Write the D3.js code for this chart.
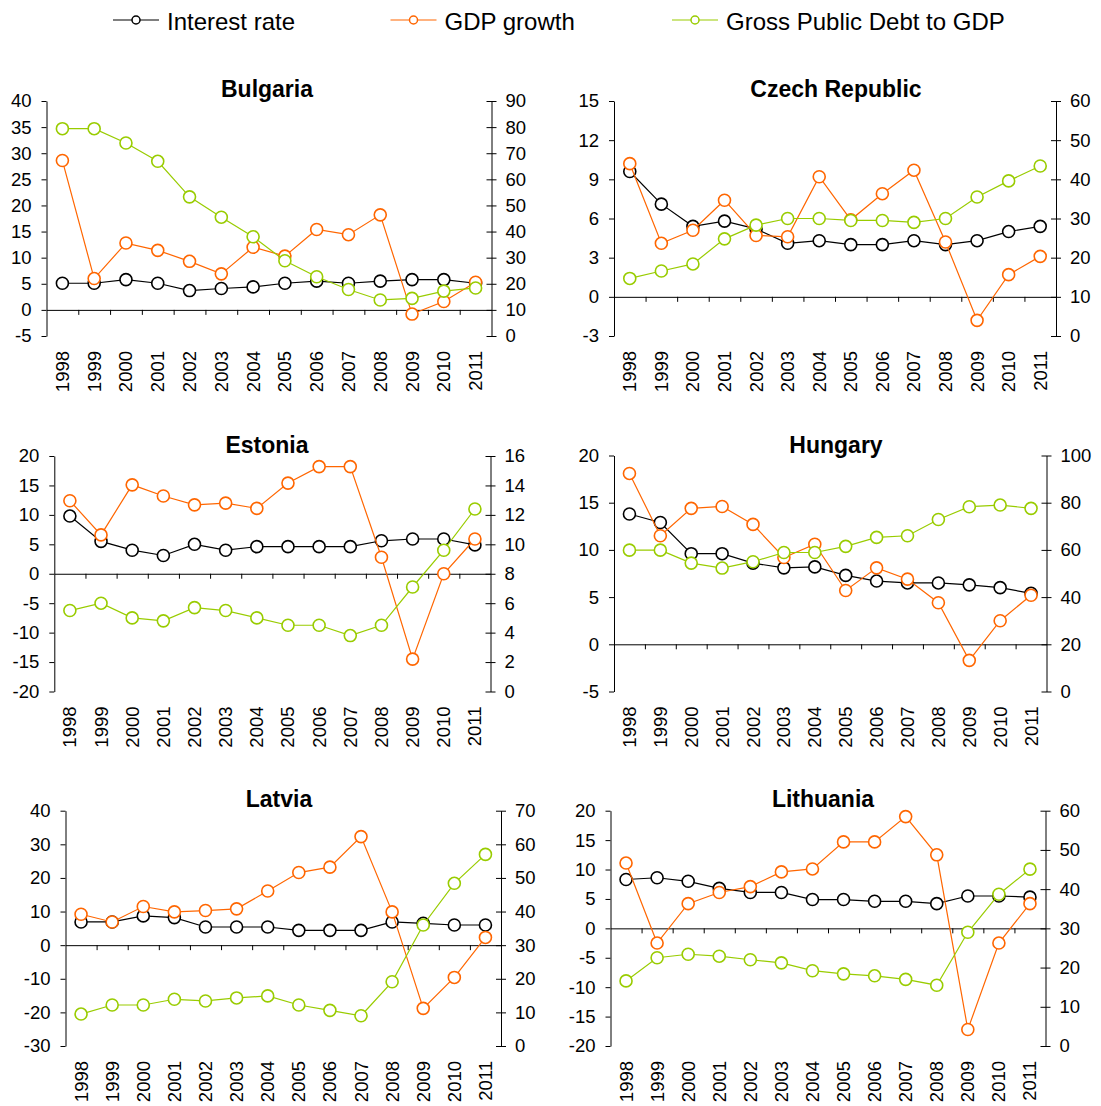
<!DOCTYPE html>
<html>
<head>
  <meta charset="utf-8">
  <script src="https://d3js.org/d3.v7.min.js"></script>
  <style>
    body { margin: 0; background: #fff; }
    svg { display: block; }
    text { font-family: "Liberation Sans", Arial, sans-serif; fill: #000; }
  </style>
</head>
<body>
<script>
  // ---- data ----
  var years = [1998, 1999, 2000, 2001, 2002, 2003, 2004, 2005, 2006, 2007, 2008, 2009, 2010, 2011];
  var seriesNames = ["Interest rate", "GDP growth", "Gross Public Debt to GDP"];

  var bgInterest = [5.1, 5.1, 5.8, 5.1, 3.7, 4.1, 4.4, 5.1, 5.5, 5.1, 5.5, 5.8, 5.8, 5.1];
  var bgGdp      = [28.6, 6.0, 12.8, 11.4, 9.3, 6.9, 12.0, 10.3, 15.4, 14.4, 18.2, -0.8, 1.6, 5.3];
  var bgDebt     = [79.4, 79.4, 73.9, 66.9, 53.3, 45.5, 38.0, 28.8, 22.7, 17.8, 13.8, 14.4, 17.2, 18.4];

  var czInterest = [9.6, 7.1, 5.4, 5.8, 5.2, 4.1, 4.3, 4.0, 4.0, 4.3, 4.0, 4.3, 5.0, 5.4];
  var czGdp      = [10.2, 4.1, 5.1, 7.4, 4.7, 4.6, 9.2, 5.9, 7.9, 9.7, 4.2, -1.8, 1.7, 3.1];
  var czDebt     = [14.7, 16.6, 18.4, 24.8, 28.3, 30.0, 30.0, 29.5, 29.5, 29.0, 30.0, 35.5, 39.6, 43.4];

  var eeInterest = [9.8, 5.5, 4.0, 3.1, 5.0, 4.0, 4.6, 4.6, 4.6, 4.6, 5.6, 5.9, 5.9, 4.9];
  var eeGdp      = [12.4, 6.6, 15.1, 13.2, 11.7, 12.0, 11.1, 15.4, 18.2, 18.2, 2.8, -14.5, 0.0, 5.9];
  var eeDebt     = [5.5, 6.0, 5.0, 4.8, 5.7, 5.5, 5.0, 4.5, 4.5, 3.8, 4.5, 7.1, 9.6, 12.4];

  var huInterest = [13.8, 12.9, 9.6, 9.6, 8.6, 8.1, 8.2, 7.3, 6.7, 6.5, 6.5, 6.3, 6.0, 5.4];
  var huGdp      = [18.1, 11.5, 14.4, 14.6, 12.7, 9.2, 10.6, 5.7, 8.1, 6.9, 4.4, -1.7, 2.5, 5.2];
  var huDebt     = [59.9, 59.9, 54.4, 52.3, 55.0, 58.9, 58.9, 61.5, 65.3, 66.0, 72.9, 78.3, 79.0, 77.6];

  var lvInterest = [6.9, 6.9, 8.7, 8.2, 5.4, 5.4, 5.4, 4.4, 4.4, 4.4, 6.9, 6.5, 6.0, 6.0];
  var lvGdp      = [9.2, 6.9, 11.5, 9.9, 10.3, 10.8, 16.1, 21.6, 23.2, 32.3, 9.9, -18.8, -9.6, 2.3];
  var lvDebt     = [9.5, 12.2, 12.2, 13.9, 13.4, 14.3, 14.9, 12.2, 10.6, 9.0, 19.1, 36.0, 48.4, 57.0];

  var ltInterest = [8.3, 8.6, 8.0, 6.8, 6.1, 6.1, 4.9, 4.9, 4.6, 4.6, 4.2, 5.5, 5.5, 5.3];
  var ltGdp      = [11.1, -2.5, 4.2, 6.1, 7.1, 9.6, 10.1, 14.7, 14.7, 19.0, 12.5, -17.2, -2.5, 4.2];
  var ltDebt     = [16.6, 22.5, 23.4, 22.9, 22.0, 21.2, 19.2, 18.4, 17.9, 17.0, 15.5, 29.0, 38.7, 45.1];

  // tick labels of the two value axes
  var bgLeftTicks = [-5, 0, 5, 10, 15, 20, 25, 30, 35, 40],  bgRightTicks = [0, 10, 20, 30, 40, 50, 60, 70, 80, 90];
  var czLeftTicks = [-3, 0, 3, 6, 9, 12, 15],                czRightTicks = [0, 10, 20, 30, 40, 50, 60];
  var eeLeftTicks = [-20, -15, -10, -5, 0, 5, 10, 15, 20],   eeRightTicks = [0, 2, 4, 6, 8, 10, 12, 14, 16];
  var huLeftTicks = [-5, 0, 5, 10, 15, 20],                  huRightTicks = [0, 20, 40, 60, 80, 100];
  var lvLeftTicks = [-30, -20, -10, 0, 10, 20, 30, 40],      lvRightTicks = [0, 10, 20, 30, 40, 50, 60, 70];
  var ltLeftTicks = [-20, -15, -10, -5, 0, 5, 10, 15, 20],   ltRightTicks = [0, 10, 20, 30, 40, 50, 60];

  // ---- layout of the six panels (plot boxes + title anchor) ----
  var panels = [
    {title: "Bulgaria",       L: 46.5, R: 491.5,  T: 101,   B: 336,  tx: 267, ty: 97,
     s: [bgInterest, bgGdp, bgDebt], lt: bgLeftTicks, rt: bgRightTicks},
    {title: "Czech Republic", L: 614,  R: 1056,   T: 101,   B: 336,  tx: 836, ty: 97,
     s: [czInterest, czGdp, czDebt], lt: czLeftTicks, rt: czRightTicks},
    {title: "Estonia",        L: 54.3, R: 490.5,  T: 456,   B: 691.5, tx: 267, ty: 452.5,
     s: [eeInterest, eeGdp, eeDebt], lt: eeLeftTicks, rt: eeRightTicks},
    {title: "Hungary",        L: 614,  R: 1046.5, T: 455.5, B: 691.5, tx: 836, ty: 452.5,
     s: [huInterest, huGdp, huDebt], lt: huLeftTicks, rt: huRightTicks},
    {title: "Latvia",         L: 65.5, R: 501,    T: 810.7, B: 1046, tx: 279, ty: 807,
     s: [lvInterest, lvGdp, lvDebt], lt: lvLeftTicks, rt: lvRightTicks},
    {title: "Lithuania",      L: 610.5, R: 1045.5, T: 810.7, B: 1046, tx: 823, ty: 807,
     s: [ltInterest, ltGdp, ltDebt], lt: ltLeftTicks, rt: ltRightTicks}
  ];

  var colors = ["#000000", "#FF6600", "#99CC00"];
  var tickFont = "18.5px";
  // plain hyphen for negatives, like the original (d3 uses a unicode minus)
  var fmt = function (d) { return String(d); };

  var svg = d3.select("body").append("svg")
    .attr("width", 1101)
    .attr("height", 1106);

  svg.append("rect").attr("width", 1101).attr("height", 1106).style("fill", "#fff");

  // ---- legend ----
  var legendX = [113, 390.5, 672];
  var legend = svg.append("g").attr("class", "legend");
  seriesNames.forEach(function (name, i) {
    var g = legend.append("g").attr("transform", "translate(" + legendX[i] + ",20)");
    g.append("line").attr("x1", 0).attr("x2", 46).attr("y1", 0).attr("y2", 0)
      .style("stroke", colors[i]).style("stroke-width", 1.2);
    g.append("circle").attr("cx", 23).attr("cy", 0).attr("r", 4)
      .style("fill", "#fff").style("stroke", colors[i]).style("stroke-width", 1.5);
    g.append("text").attr("x", 54).attr("y", 10)
      .style("font-size", "24px")
      .text(name);
  });

  // ---- panels ----
  panels.forEach(function (p) {
    var g = svg.append("g");

    var yLeft = d3.scaleLinear()
      .domain([p.lt[0], p.lt[p.lt.length - 1]])
      .range([p.B, p.T]);
    var yRight = d3.scaleLinear()
      .domain([p.rt[0], p.rt[p.rt.length - 1]])
      .range([p.B, p.T]);
    var xBand = d3.scaleBand().domain(years).range([p.L, p.R]).padding(0);
    var xEdge = d3.scaleLinear().domain([0, years.length]).range([p.L, p.R]);
    var cx = function (d, i) { return xBand(years[i]) + xBand.bandwidth() / 2; };

    // title
    g.append("text")
      .attr("x", p.tx).attr("y", p.ty)
      .attr("text-anchor", "middle")
      .style("font-size", "23px")
      .style("font-weight", "bold")
      .text(p.title);

    // left value axis, ticks outside
    var la = g.append("g")
      .attr("transform", "translate(" + p.L + ",0)")
      .call(d3.axisLeft(yLeft).tickValues(p.lt).tickFormat(fmt)
        .tickSizeInner(5).tickSizeOuter(0).tickPadding(10));
    la.selectAll("text").style("font-size", tickFont).style("font-family", "Liberation Sans, Arial, sans-serif");

    // right (secondary) axis, ticks cross the line
    var ra = g.append("g")
      .attr("transform", "translate(" + p.R + ",0)")
      .call(d3.axisRight(yRight).tickValues(p.rt).tickFormat(fmt)
        .tickSizeInner(5).tickSizeOuter(0).tickPadding(9));
    ra.selectAll(".tick line").attr("x1", -5).attr("x2", 5);
    ra.selectAll("text").style("font-size", tickFont).style("font-family", "Liberation Sans, Arial, sans-serif");

    // category axis sits on zero of the left axis
    g.append("g")
      .attr("transform", "translate(0," + yLeft(0) + ")")
      .call(d3.axisBottom(xEdge).tickValues(d3.range(1, years.length))
        .tickSizeInner(5).tickSizeOuter(0).tickFormat(""));

    // year labels, rotated, below the plot box
    var yl = g.append("g")
      .attr("transform", "translate(0," + p.B + ")")
      .call(d3.axisBottom(xBand).tickSize(0).tickFormat(fmt));
    yl.select(".domain").remove();
    yl.selectAll("text")
      .attr("transform", "rotate(-90)")
      .attr("x", -15).attr("y", 0).attr("dy", "0.35em")
      .attr("text-anchor", "end")
      .style("font-size", tickFont)
      .style("font-family", "Liberation Sans, Arial, sans-serif");

    g.selectAll(".domain, .tick line").style("stroke", "#000").style("stroke-width", 1);

    // series: interest + gdp on left axis, debt on right
    p.s.forEach(function (vals, k) {
      var ys = k === 2 ? yRight : yLeft;
      var line = d3.line().x(cx).y(function (d) { return ys(d); });
      g.append("path")
        .datum(vals)
        .attr("d", line)
        .style("fill", "none")
        .style("stroke", colors[k])
        .style("stroke-width", 1.2);
      g.selectAll(".m" + k)
        .data(vals)
        .enter()
        .append("circle")
          .attr("class", "m" + k)
          .attr("cx", cx)
          .attr("cy", function (d) { return ys(d); })
          .attr("r", 6)
          .style("fill", "#fff")
          .style("stroke", colors[k])
          .style("stroke-width", 1.6);
    });
  });
</script>
</body>
</html>
